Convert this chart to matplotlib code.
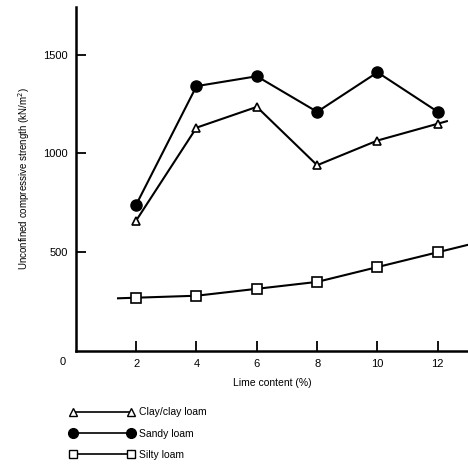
import matplotlib
matplotlib.use("Agg")
import matplotlib.pyplot as plt
from matplotlib.lines import Line2D
import numpy as np

lime = [2, 4, 6, 8, 10, 12]
clay = [660, 1130, 1235, 940, 1065, 1150]
sandy = [740, 1340, 1390, 1210, 1410, 1210]
silty = [270, 280, 315, 350, 425, 500]
xticks = [2, 4, 6, 8, 10, 12]
yticks = [500, 1000, 1500]
labels = ["Clay/clay loam", "Sandy loam", "Silty loam"]

plt.rcParams['font.family'] = ['Liberation Sans', 'DejaVu Sans']
fig = plt.figure(figsize=(4.68, 4.70), dpi=100)
ax = fig.add_axes([0.162, 0.253, 0.838, 0.732])
ax.set_xlim(0, 13.0)
ax.set_ylim(0, 1740)

lw = 1.5
# clay line extended slightly beyond last point along last segment
cx = list(lime) + [12.3]
cy = list(clay) + [clay[-1] + (clay[-1] - clay[-2]) / (lime[-1] - lime[-2]) * 0.3]
ax.plot(cx, cy, color='black', lw=lw)
ax.plot(lime, clay, linestyle='none', marker='^', ms=6, mfc='white', mec='black', mew=1.2)
ax.plot(lime, sandy, color='black', lw=lw, marker='o', ms=8, mfc='black', mec='black')
# silty line extended at both ends
sx = [1.4] + list(lime) + [13.0]
sy = [silty[0] - (silty[1] - silty[0]) / 2 * 0.6] + list(silty) + [silty[-1] + (silty[-1] - silty[-2]) / 2 * 1.0]
ax.plot(sx, sy, color='black', lw=lw)
ax.plot(lime, silty, linestyle='none', marker='s', ms=6.5, mfc='white', mec='black', mew=1.2)

for s in ['top', 'right']:
    ax.spines[s].set_visible(False)
for s in ['left', 'bottom']:
    ax.spines[s].set_linewidth(1.8)
ax.set_xticks(xticks)
ax.set_yticks(yticks)
ax.tick_params(direction='in', length=7, width=1.3, labelsize=8, pad=6)
ax.text(-0.35, -30, "0", ha='right', va='top', fontsize=8)
ax.set_xlabel("Lime content (%)", fontsize=7.5, labelpad=6)
ax.set_ylabel("Unconfined compressive strength (kN/m$^2$)", fontsize=7, labelpad=8)

handles = [
    Line2D([0], [0], color='black', lw=1.2, marker='^', ms=6, mfc='white', mec='black'),
    Line2D([0], [0], color='black', lw=1.2, marker='o', ms=7, mfc='black', mec='black'),
    Line2D([0], [0], color='black', lw=1.2, marker='s', ms=6, mfc='white', mec='black'),
]
fig.legend(handles, labels, loc='upper left', bbox_to_anchor=(0.14, 0.142),
           frameon=False, numpoints=2, handlelength=6.2, fontsize=7.5,
           labelspacing=1.07, handletextpad=0.5, borderaxespad=0)

fig.savefig("out.png", dpi=100)
